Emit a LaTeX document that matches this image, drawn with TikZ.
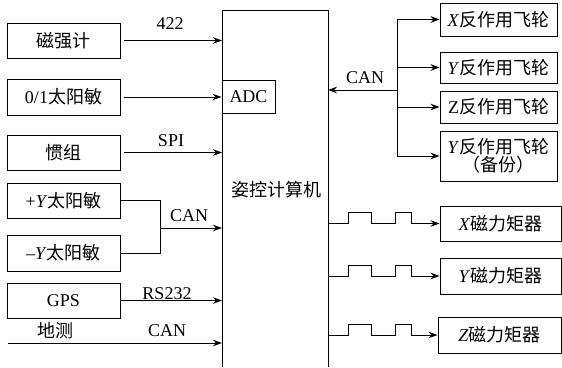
\documentclass[tikz,border=0pt]{standalone}
\usepackage{fontspec}
\setmainfont{Liberation Serif}
\newfontfamily\cjk{Noto Sans CJK SC}
\usetikzlibrary{arrows.meta}
\newcommand\myfs{\fontsize{18}{21}\selectfont}
\begin{document}
\begin{tikzpicture}[x=1pt,y=-1pt,line width=0.9pt,
  box/.style={draw,rectangle,inner sep=0pt,align=center,font=\myfs},
  lbl/.style={inner sep=0pt,font=\myfs},
  arr/.style={-{Stealth[length=9pt,width=6.5pt]}}]
\useasboundingbox (0,0) rectangle (562,367);
% computer
\coordinate (compL) at (222,10);
\coordinate (compR) at (328,10);
\draw (222,367) -- (compL) -- (compR) -- (328,367);
\node[lbl] (comptext) at (276,190) {\cjk 姿控计算机};
\node[box,minimum width=53pt,minimum height=33pt] (adc) at (248.5,96.5) {ADC};
% left boxes
\node[box,minimum width=113pt,minimum height=35pt] (mag) at (63.5,40.5) {\cjk 磁强计};
\node[box,minimum width=113pt,minimum height=36pt] (sun) at (63.5,97) {0/1{\cjk 太阳敏}};
\node[box,minimum width=113pt,minimum height=35pt] (imu) at (63.5,152.5) {\cjk 惯组};
\node[box,minimum width=113pt,minimum height=35pt] (py) at (63.5,200.5) {+\textit{Y}{\cjk 太阳敏}};
\node[box,minimum width=113pt,minimum height=36pt] (my) at (63.5,253) {–\textit{Y}{\cjk 太阳敏}};
\node[box,minimum width=113pt,minimum height=35pt] (gps) at (63.5,300.5) {GPS};
% left connectors
\draw[arr,shorten <=3.5pt] (mag.east) -- (mag.east -| compL);
\draw[arr,shorten <=3.5pt] (sun.east) -- (sun.east -| adc.west);
\draw[arr,shorten <=3.5pt] (imu.east) -- (imu.east -| compL);
\coordinate (j) at (160,228);
\draw (py.east) -| (j);
\draw (my.east) -| (j);
\draw[arr] (j) -- (j -| compL);
\draw[arr] (gps.east) -- (gps.east -| compL);
\coordinate (gs) at (8,343);
\draw[arr] (gs) -- (gs -| compL);
\node[lbl] (l422) at (170,24) {422};
\node[lbl] (lspi) at (171,140.5) {SPI};
\node[lbl] (lcan1) at (189,216) {CAN};
\node[lbl] (lrs) at (167,294) {RS232};
\node[lbl] (ldc) at (55,331) {\cjk 地测};
\node[lbl] (lcan2) at (167,331) {CAN};
% right wheels
\node[box,minimum width=117pt,minimum height=33pt] (wx) at (498.5,19.5) {\textit{X}{\cjk 反作用飞轮}};
\node[box,minimum width=117pt,minimum height=31pt] (wy) at (498.5,67.5) {\textit{Y}{\cjk 反作用飞轮}};
\node[box,minimum width=117pt,minimum height=32pt] (wz) at (498.5,107) {Z{\cjk 反作用飞轮}};
\node[box,minimum width=117pt,minimum height=50pt] (wb) at (498.5,156) {\textit{Y}{\cjk 反作用飞轮}\\[-3pt]{\cjk （备份）}};
\coordinate (bus) at (397,90);
\draw[arr] (bus) -- (bus -| compR);
\draw[arr] (bus) |- (wx.west);
\draw[arr] (bus) |- (wy.west);
\draw[arr] (bus) |- (wz.west);
\draw[arr] (bus) |- (wb.west);
\node[lbl] (lcan3) at (365,78) {CAN};
% magnetorquers
\node[box,minimum width=121pt,minimum height=35pt] (mx) at (500.5,223.5) {\textit{X}{\cjk 磁力矩器}};
\node[box,minimum width=121pt,minimum height=36pt] (mqy) at (500.5,276) {\textit{Y}{\cjk 磁力矩器}};
\node[box,minimum width=123pt,minimum height=36pt] (mz) at (499.5,335) {\textit{Z}{\cjk 磁力矩器}};
\foreach \m in {mx,mqy,mz}{
  \draw[arr] (\m.west -| compR) -- ++(20,0) -- ++(0,-11) -- ++(23,0) -- ++(0,11)
    -- ++(24,0) -- ++(0,-11) -- ++(16,0) -- ++(0,11) -- (\m.west);
}
\end{tikzpicture}
\end{document}
